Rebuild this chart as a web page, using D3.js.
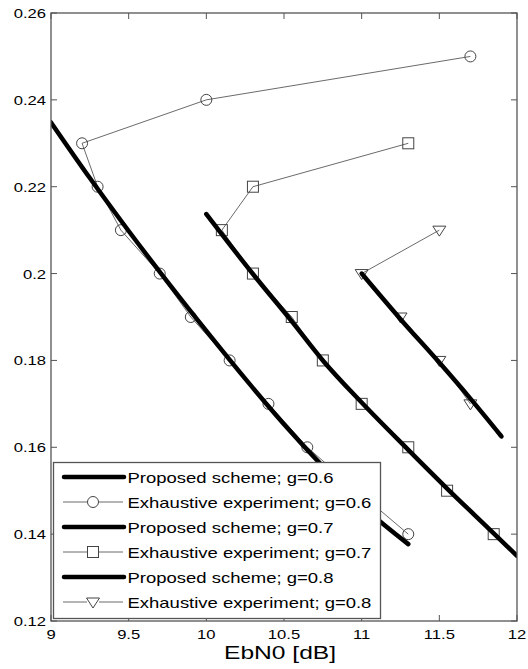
<!DOCTYPE html>
<html><head><meta charset="utf-8">
<script src="https://cdn.jsdelivr.net/npm/d3@7"></script>
<style>html,body{margin:0;padding:0;background:#fff;}svg{display:block;}</style>
</head><body>
<script>
// ---- data ----
const xTicks = [9, 9.5, 10, 10.5, 11, 11.5, 12];
const xTickLabels = ["9", "9.5", "10", "10.5", "11", "11.5", "12"];
const yTicks = [0.12, 0.14, 0.16, 0.18, 0.2, 0.22, 0.24, 0.26];
const yTickLabels = ["0.12", "0.14", "0.16", "0.18", "0.2", "0.22", "0.24", "0.26"];
const xLabel = "EbN0 [dB]";

const prop06x = [9.0, 9.25, 9.5, 9.75, 10.0, 10.25, 10.5, 10.75, 11.0, 11.3];
const prop06y = [0.2348, 0.2220, 0.2098, 0.1981, 0.1868, 0.1758, 0.1653, 0.1556, 0.1466, 0.1377];
const exh06x = [11.7, 10.0, 9.2, 9.3, 9.45, 9.7, 9.9, 10.15, 10.4, 10.65, 10.97, 11.3];
const exh06y = [0.25, 0.24, 0.23, 0.22, 0.21, 0.20, 0.19, 0.18, 0.17, 0.16, 0.15, 0.14];

const prop07x = [10.0, 10.3, 10.55, 10.75, 11.0, 11.3, 11.55, 11.85, 12.0];
const prop07y = [0.2137, 0.1999, 0.1890, 0.1800, 0.1703, 0.1594, 0.1505, 0.1402, 0.1350];
const exh07x = [11.3, 10.3, 10.1, 10.3, 10.55, 10.75, 11.0, 11.3, 11.55, 11.85];
const exh07y = [0.23, 0.22, 0.21, 0.20, 0.19, 0.18, 0.17, 0.16, 0.15, 0.14];

const prop08x = [11.0, 11.25, 11.5, 11.7, 11.9];
const prop08y = [0.2, 0.1895, 0.1795, 0.1712, 0.1625];
const exh08x = [11.5, 11.0, 11.25, 11.5, 11.7];
const exh08y = [0.21, 0.20, 0.19, 0.18, 0.17];

const legendLabels = [
  "Proposed scheme; g=0.6", "Exhaustive experiment; g=0.6",
  "Proposed scheme; g=0.7", "Exhaustive experiment; g=0.7",
  "Proposed scheme; g=0.8", "Exhaustive experiment; g=0.8"
];
const legendKinds = ["thick", "circle", "thick", "square", "thick", "tri"];

// ---- layout ----
const W = 528, H = 669;
const mLeft = 51, mRight = 517, mTop = 13, mBottom = 621;
const SX = 1.33; // horizontal text stretch of the reference
const FONT = "'Liberation Sans', Arial, Helvetica, sans-serif";

const x = d3.scaleLinear().domain([9, 12]).range([mLeft, mRight]);
const y = d3.scaleLinear().domain([0.12, 0.26]).range([mBottom, mTop]);

const svg = d3.select("body").append("svg").attr("width", W).attr("height", H);

function stretchedText(parent, px, py, str, size, anchor) {
  const g = parent.append("g").attr("transform", `translate(${px},${py}) scale(${SX},1)`);
  g.append("text").attr("x", 0).attr("y", 0)
    .attr("font-family", FONT).attr("font-size", size)
    .attr("text-anchor", anchor).attr("fill", "#000").text(str);
  return g;
}

const zip = (xs, ys) => xs.map((v, i) => [v, ys[i]]);
const line = d3.line().x(d => x(d[0])).y(d => y(d[1]));
const smooth = d3.line().x(d => x(d[0])).y(d => y(d[1])).curve(d3.curveMonotoneX);

const plot = svg.append("g");
plot.append("defs").append("clipPath").attr("id", "clip")
  .append("rect").attr("x", mLeft).attr("y", mTop).attr("width", mRight - mLeft).attr("height", mBottom - mTop);
const data = plot.append("g").attr("clip-path", "url(#clip)");

function marker(g, kind, cx, cy) {
  if (kind === "circle") {
    g.append("circle").attr("cx", cx).attr("cy", cy).attr("r", 5.5)
      .attr("fill", "none").attr("stroke", "#444").attr("stroke-width", 1);
  } else if (kind === "square") {
    g.append("rect").attr("x", cx - 5.5).attr("y", cy - 5.5).attr("width", 11).attr("height", 11)
      .attr("fill", "none").attr("stroke", "#444").attr("stroke-width", 1);
  } else if (kind === "tri") {
    g.append("path").attr("d", `M${cx - 6.5},${cy - 4}L${cx + 6.5},${cy - 4}L${cx},${cy + 6}Z`)
      .attr("fill", "none").attr("stroke", "#444").attr("stroke-width", 1);
  }
}

const exhSeries = [
  {pts: zip(exh06x, exh06y), kind: "circle"},
  {pts: zip(exh07x, exh07y), kind: "square"},
  {pts: zip(exh08x, exh08y), kind: "tri"}
];
const propSeries = [zip(prop06x, prop06y), zip(prop07x, prop07y), zip(prop08x, prop08y)];

exhSeries.forEach(s => {
  data.append("path").attr("d", line(s.pts)).attr("fill", "none")
    .attr("stroke", "#444").attr("stroke-width", 0.8);
  s.pts.forEach(p => marker(data, s.kind, x(p[0]), y(p[1])));
});
propSeries.forEach(pts => {
  data.append("path").attr("d", smooth(pts)).attr("fill", "none")
    .attr("stroke", "#000").attr("stroke-width", 4.5)
    .attr("stroke-linecap", "round").attr("stroke-linejoin", "round");
});

// ---- axes (MATLAB box with inward ticks) ----
const axisColor = "#555";
const axes = svg.append("g");
axes.append("rect").attr("x", mLeft).attr("y", mTop).attr("width", mRight - mLeft).attr("height", mBottom - mTop)
  .attr("fill", "none").attr("stroke", axisColor).attr("stroke-width", 1.3);
const tl = 6;
xTicks.forEach((t, i) => {
  const px = x(t);
  axes.append("line").attr("x1", px).attr("x2", px).attr("y1", mBottom).attr("y2", mBottom - tl)
    .attr("stroke", axisColor).attr("stroke-width", 1);
  axes.append("line").attr("x1", px).attr("x2", px).attr("y1", mTop).attr("y2", mTop + tl)
    .attr("stroke", axisColor).attr("stroke-width", 1);
  stretchedText(axes, px, 639, xTickLabels[i], 12.5, "middle");
});
yTicks.forEach((t, i) => {
  const py = y(t);
  axes.append("line").attr("x1", mLeft).attr("x2", mLeft + tl).attr("y1", py).attr("y2", py)
    .attr("stroke", axisColor).attr("stroke-width", 1);
  axes.append("line").attr("x1", mRight).attr("x2", mRight - tl).attr("y1", py).attr("y2", py)
    .attr("stroke", axisColor).attr("stroke-width", 1);
  stretchedText(axes, 46, py + 5, yTickLabels[i], 12.5, "end");
});
stretchedText(svg, 280, 658.5, xLabel, 18.5, "middle");

// ---- legend ----
const lg = svg.append("g");
lg.append("rect").attr("x", 53.5).attr("y", 462.5).attr("width", 327).attr("height", 156)
  .attr("fill", "#fff").attr("stroke", axisColor).attr("stroke-width", 1.3);
legendLabels.forEach((lab, i) => {
  const ry = 477 + i * 25;
  const k = legendKinds[i];
  if (k === "thick") {
    lg.append("line").attr("x1", 64).attr("x2", 124).attr("y1", ry).attr("y2", ry)
      .attr("stroke", "#000").attr("stroke-width", 4.5).attr("stroke-linecap", "round");
  } else {
    lg.append("line").attr("x1", 63).attr("x2", 123).attr("y1", ry).attr("y2", ry)
      .attr("stroke", "#444").attr("stroke-width", 0.8);
    const mg = lg.append("g");
    mg.append("rect").attr("x", 87).attr("y", ry - 6).attr("width", 12).attr("height", 12).attr("fill", "#fff");
    marker(mg, k, 93, ry);
  }
  stretchedText(lg, 127.5, ry + 5.5, lab, 13.9, "start");
});
</script>
</body></html>
